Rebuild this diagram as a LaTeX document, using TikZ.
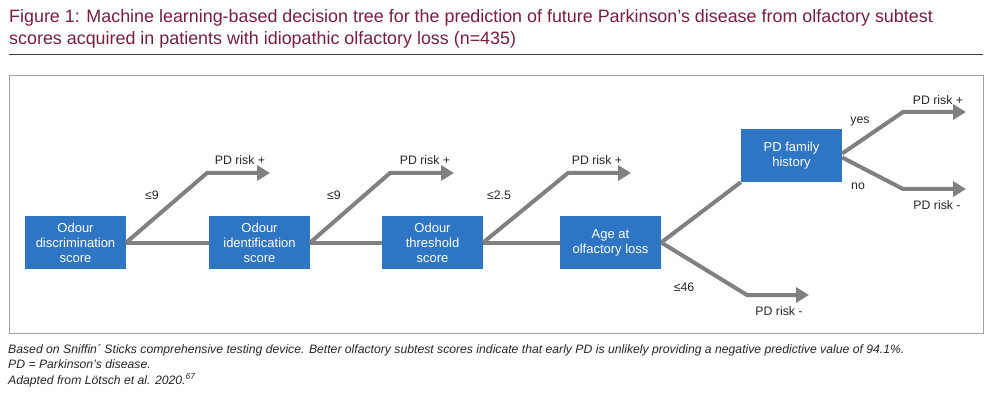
\documentclass[tikz,border=0pt]{standalone}
\usepackage{fontspec}
\setmainfont{Liberation Sans}
\usetikzlibrary{arrows.meta}
\definecolor{titlecol}{RGB}{118,30,68}
\definecolor{boxblue}{RGB}{46,117,196}
\definecolor{linegray}{RGB}{128,128,128}
\definecolor{framegray}{RGB}{160,160,160}
\begin{document}
\begin{tikzpicture}[x=1pt,y=-1pt,
  box/.style={fill=boxblue,text=white,minimum width=101pt,minimum height=53pt,inner sep=1pt,align=center,font=\fontsize{13}{15}\selectfont},
  conn/.style={draw=linegray,line width=4pt,line join=miter},
  arr/.style={conn,-{Triangle[length=13pt,width=15pt]}},
  lbl/.style={font=\fontsize{12.3}{14}\selectfont,text=black!85,inner sep=0pt},
  title/.style={font=\fontsize{17.9}{21}\selectfont,text=titlecol,anchor=base west,inner sep=0pt},
  foot/.style={font=\fontsize{12.2}{14}\itshape,text=black!85,anchor=base west,inner sep=0pt}]
\useasboundingbox (0,0) rectangle (998,398);
% title
\node[title] (t1) at (9,23) {Figure 1: Machine learning-based decision tree for the prediction of future Parkinson’s disease from olfactory subtest};
\node[title] (t2) at (9,45) {scores acquired in patients with idiopathic olfactory loss (n=435)};
\draw[black!75,line width=1pt] (9,54.5) -- (983,54.5);
% frame
\draw[framegray,line width=1pt] (9,76) rectangle (983,333);
% boxes
\node[box] (b1) at (75.5,242.5) {Odour\\discrimination\\score};
\node[box] (b2) at (259.5,242.5) {Odour\\identification\\score};
\node[box] (b3) at (432.5,242.5) {Odour\\threshold\\score};
\node[box] (b4) at (610.5,242.5) {Age at\\olfactory loss};
\node[box] (b5) at (791.5,155.5) {PD family\\history};
% coordinates
\coordinate (k1) at (207,173); \coordinate (e1) at (270,173);
\coordinate (k2) at (390,173); \coordinate (e2) at (454,173);
\coordinate (k3) at (568,173); \coordinate (e3) at (631,173);
\coordinate (k4) at (747,295); \coordinate (e4) at (809,295);
\coordinate (k5) at (903,112); \coordinate (e5) at (966,112);
\coordinate (k6) at (903,189); \coordinate (e6) at (966,189);
% connectors
\draw[conn] (b1.east) -- (b2.west);
\draw[conn] (b2.east) -- (b3.west);
\draw[conn] (b3.east) -- (b4.west);
\draw[conn] (b4.east) -- (b5.south west);
\draw[arr] (b1.east) -- (k1) -- (e1);
\draw[arr] (b2.east) -- (k2) -- (e2);
\draw[arr] (b3.east) -- (k3) -- (e3);
\draw[arr] (b4.east) -- (k4) -- (e4);
\draw[arr] ([yshift=2pt]b5.east) -- (k5) -- (e5);
\draw[arr] ([yshift=-2pt]b5.east) -- (k6) -- (e6);
% labels
\node[lbl] (l1) at (152,195) {≤9};
\node[lbl] (r1) at (240,160) {PD risk +};
\node[lbl] (l2) at (334,195) {≤9};
\node[lbl] (r2) at (425,160) {PD risk +};
\node[lbl] (l3) at (499,195) {≤2.5};
\node[lbl] (r3) at (597,160) {PD risk +};
\node[lbl] (l4) at (684,287) {≤46};
\node[lbl] (r4) at (779,311) {PD risk -};
\node[lbl] (l5) at (860,121) {yes};
\node[lbl] (r5) at (938,100) {PD risk +};
\node[lbl] (l6) at (858,186) {no};
\node[lbl] (r6) at (937,205) {PD risk -};
% footnotes
\node[foot] (f1) at (8,353) {Based on Sniffin´ Sticks comprehensive testing device. Better olfactory subtest scores indicate that early PD is unlikely providing a negative predictive value of 94.1\%.};
\node[foot] (f2) at (8,368) {PD = Parkinson’s disease.};
\node[foot] (f3) at (8,384) {Adapted from Lötsch et al. 2020.\textsuperscript{67}};
\end{tikzpicture}
\end{document}
